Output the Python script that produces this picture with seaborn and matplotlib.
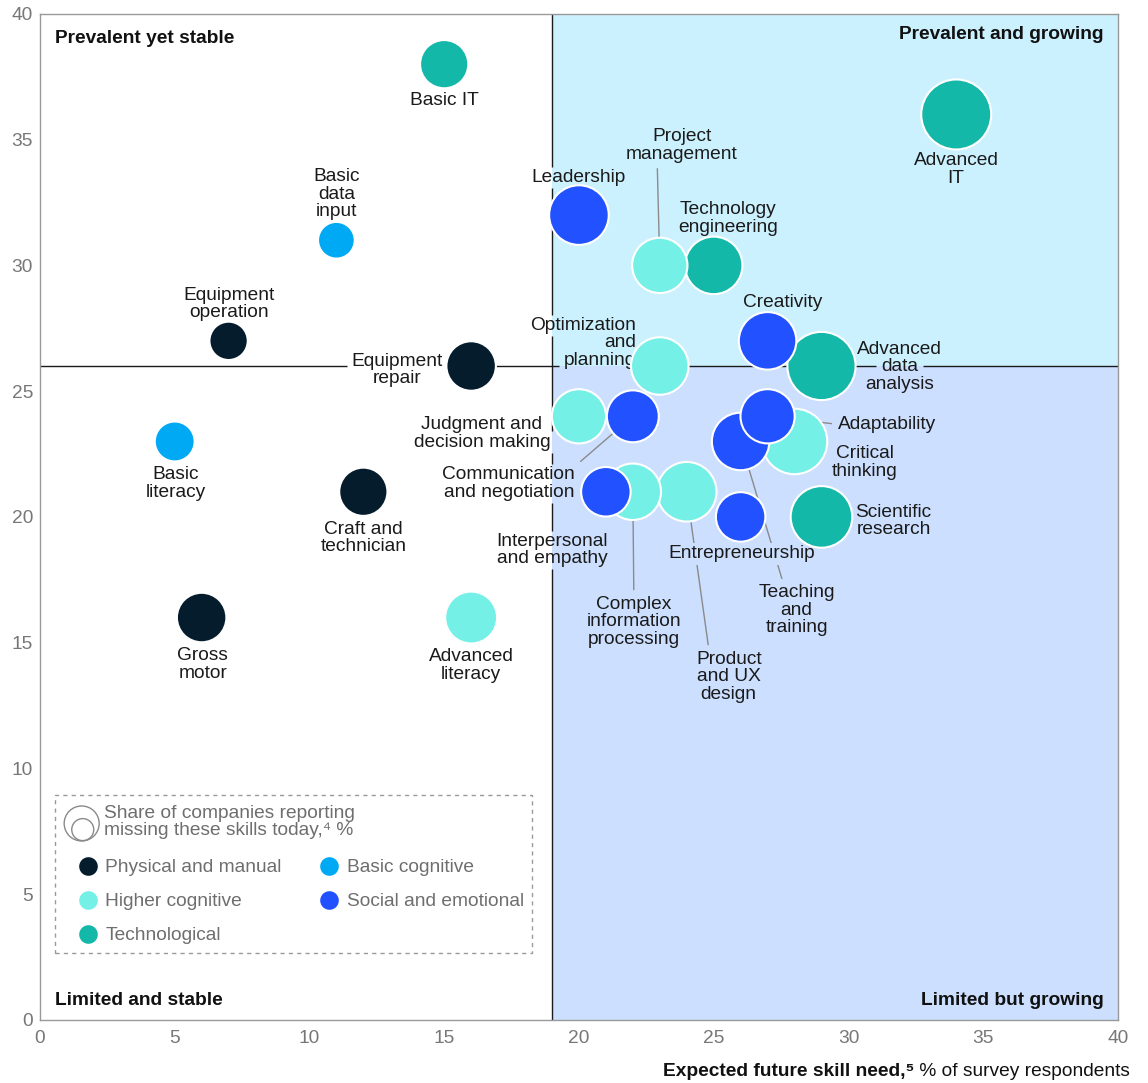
import pandas as pd
import seaborn as sns
import matplotlib.pyplot as plt
from matplotlib.lines import Line2D
from matplotlib.patches import Rectangle
from matplotlib.text import Text

sns.set_style('white')
plt.rcParams['font.family'] = ['Liberation Sans', 'DejaVu Sans']

# ---- data ----
skills = ['Basic IT', 'Advanced\nIT', 'Basic\ndata\ninput', 'Equipment\noperation',
          'Equipment\nrepair', 'Leadership', 'Project\nmanagement', 'Technology\nengineering',
          'Creativity', 'Advanced\ndata\nanalysis', 'Optimization\nand\nplanning',
          'Judgment and\ndecision making', 'Communication\nand negotiation', 'Adaptability',
          'Critical\nthinking', 'Teaching\nand\ntraining', 'Interpersonal\nand empathy',
          'Complex\ninformation\nprocessing', 'Product\nand UX\ndesign', 'Entrepreneurship',
          'Scientific\nresearch', 'Basic\nliteracy', 'Craft and\ntechnician', 'Gross\nmotor',
          'Advanced\nliteracy']
need = [15, 34, 11, 7, 16, 20, 23, 25, 27, 29, 23, 20, 22, 27, 28, 26, 21, 22, 24, 26, 29, 5, 12, 6, 16]
prevalence = [38, 36, 31, 27, 26, 32, 30, 30, 27, 26, 26, 24, 24, 24, 23, 23, 21, 21, 21, 20, 20, 23, 21, 16, 16]
gap = [19, 40, 11, 12, 20, 29, 25, 27, 27, 38, 27, 24, 22, 24, 35, 27, 20, 26, 29, 20, 31, 13, 19, 20, 22]
category = ['Technological', 'Technological', 'Basic cognitive', 'Physical and manual',
            'Physical and manual', 'Social and emotional', 'Higher cognitive', 'Technological',
            'Social and emotional', 'Technological', 'Higher cognitive', 'Higher cognitive',
            'Social and emotional', 'Social and emotional', 'Higher cognitive',
            'Social and emotional', 'Social and emotional', 'Higher cognitive', 'Higher cognitive',
            'Social and emotional', 'Technological', 'Basic cognitive', 'Physical and manual',
            'Physical and manual', 'Higher cognitive']

categories = ['Physical and manual', 'Higher cognitive', 'Technological',
              'Basic cognitive', 'Social and emotional']
colors = ['#051C2C', '#75F0E7', '#14B8A9', '#00A9F4', '#2251FF']
palette = dict(zip(categories, colors))

split_x, split_y = 19, 26

# label layout: offset in pixels from bubble centre, alignment, leader-line anchor
layout = [
    (0, -36, 'center', None), (0, -55, 'center', None), (0, 46, 'center', None),
    (0, 37, 'center', None), (-74, -4, 'center', None), (0, 38, 'center', None),
    (22, 120, 'center', (0.28, 0)), (14, 47, 'center', None), (15, 38, 'center', None),
    (78, -1, 'center', None), (-24, 23, 'right', None), (-97, -17, 'center', None),
    (-124, -67, 'center', (1, 1)), (70, -8, 'left', (0, 0.5)), (70, -21, 'center', None),
    (56, -169, 'center', (0.33, 1)), (-54, -58, 'center', None), (1, -130, 'center', (0.5, 1)),
    (42, -185, 'center', (0.2, 1)), (1, -37, 'center', None), (72, -4, 'center', None),
    (1, -42, 'center', None), (0, -46, 'center', None), (1, -47, 'center', None),
    (0, -48, 'center', None),
]

df = pd.DataFrame({'skill': skills, 'need': need, 'prevalence': prevalence,
                   'gap': gap, 'category': category})
df['layout'] = layout

bg_top = '#CCF1FE'
bg_bottom = '#CCDFFE'
smax = 2540
fs = 13.8

fig = plt.figure(figsize=(11.48, 10.83), dpi=100)
ax = fig.add_axes([0.0348, 0.0582, 0.939, 0.929])

ax.add_patch(Rectangle((split_x, split_y), 40 - split_x, 40 - split_y, fc=bg_top, ec='none', zorder=0))
ax.add_patch(Rectangle((split_x, 0), 40 - split_x, split_y, fc=bg_bottom, ec='none', zorder=0))

# larger bubbles first so smaller ones sit on top
sns.scatterplot(data=df.sort_values('gap', ascending=False), x='need', y='prevalence',
                hue='category', palette=palette, size='gap', sizes=(0, smax),
                size_norm=(0, 40), edgecolor='white', linewidth=1.5, legend=False,
                zorder=3, ax=ax)

labels = []
for _, r in df.iterrows():
    dx, dy, ha, relpos = r['layout']
    kw = {}
    if relpos is not None:
        rad = (r['gap'] / 40 * smax) ** 0.5 / 2 + 0.5
        kw['arrowprops'] = dict(arrowstyle='-', color='#8a8a8a', lw=1, shrinkA=2,
                                shrinkB=rad, relpos=relpos)
    z = 2.5
    if r['skill'] == 'Entrepreneurship':
        kw['bbox'] = dict(boxstyle='square,pad=0.15', fc=bg_bottom, ec='none')
        z = 2.6
    t = ax.annotate(r['skill'], xy=(r['need'], r['prevalence']), xytext=(dx, dy),
                    textcoords='offset pixels', ha=ha, va='center', fontsize=fs,
                    color='#1a1a1a', linespacing=1.04, zorder=z, **kw)
    labels.append(t)

# quadrant names
qkw = dict(transform=ax.transAxes, fontsize=fs, fontweight='bold', color='#111111',
           va='center', zorder=5)
ax.text(0.0139, 0.976, 'Prevalent yet stable', ha='left', **qkw)
ax.text(0.987, 0.979, 'Prevalent and growing', ha='right', **qkw)
ax.text(0.0139, 0.0189, 'Limited and stable', ha='left', **qkw)
ax.text(0.987, 0.0189, 'Limited but growing', ha='right', **qkw)

# legend box
ax.add_patch(Rectangle((0.0139, 0.0666), 0.4425, 0.1571, transform=ax.transAxes,
                       fill=False, ec='#9a9a9a', lw=1, ls=(0, (3, 3)), zorder=5))
ax.scatter([0.0387], [0.1953], s=635, transform=ax.transAxes, fc='none', ec='#8a8a8a',
           lw=1, zorder=5)
ax.scatter([0.0397], [0.1892], s=251, transform=ax.transAxes, fc='none', ec='#8a8a8a',
           lw=1, zorder=5)
ax.text(0.0594, 0.1968, 'Share of companies reporting\nmissing these skills today,\u2074 %',
        transform=ax.transAxes, fontsize=fs, color='#6e6e6e', va='center', ha='left',
        linespacing=1.05, zorder=5)

handles = [Line2D([], [], marker='o', ls='', markersize=14.4, markerfacecolor=palette[c],
                  markeredgecolor='white', label=c) for c in categories]
leg = ax.legend(handles=handles, ncol=2, loc='upper left', bbox_to_anchor=(0.0338, 0.160),
                frameon=False, fontsize=fs, handlelength=1.2, handletextpad=0.3,
                columnspacing=1.9, labelspacing=0.86, borderpad=0, borderaxespad=0)
for t in leg.get_texts():
    t.set_color('#6e6e6e')

ax.set_xlim(0, 40)
ax.set_ylim(0, 40)
ax.set_xticks(range(0, 41, 5))
ax.set_yticks(range(0, 41, 5))
ax.set_xlabel('')
ax.set_ylabel('')
ax.tick_params(length=0, labelsize=fs, labelcolor='#777777')
ax.tick_params(axis='x', pad=7)
ax.tick_params(axis='y', pad=5)
for s in ax.spines.values():
    s.set_color('#999999')
    s.set_linewidth(1)
    s.set_visible(True)

reg = fig.text(0.9843, 0.0102, ' % of survey respondents', ha='right', va='center',
               fontsize=fs, color='#111111')
ax.annotate('Expected future skill need,\u2075', xy=(0, 0.5), xycoords=reg, ha='right',
            va='center', fontsize=fs, fontweight='bold', color='#111111',
            annotation_clip=False)

# quadrant dividers, broken where a line of label text sits on them
fig.canvas.draw()
renderer = fig.canvas.get_renderer()
inv = ax.transData.inverted()
xpx, ypx = ax.transData.transform((split_x, split_y))
hgaps, vgaps = [], []
for t in labels:
    bb = Text.get_window_extent(t, renderer)
    rows = t.get_text().split('\n')
    h = bb.height / len(rows)
    for i, row in enumerate(rows):
        w, _, _ = renderer.get_text_width_height_descent(row, t.get_fontproperties(), ismath=False)
        ha = t.get_horizontalalignment()
        if ha == 'left':
            x0 = bb.x0
        elif ha == 'right':
            x0 = bb.x1 - w
        else:
            x0 = (bb.x0 + bb.x1) / 2 - w / 2
        x1 = x0 + w
        yt = bb.y1 - i * h
        yb = yt - h
        if yb - 2 <= ypx <= yt + 2 and x1 + 5 > 0:
            a = inv.transform((x0 - 5, 0))[0]
            b = inv.transform((x1 + 5, 0))[0]
            hgaps.append((a, b))
        if x0 - 5 <= xpx <= x1 + 5:
            a = inv.transform((0, yb - 2))[1]
            b = inv.transform((0, yt + 2))[1]
            vgaps.append((a, b))


def pieces(lo, hi, gaps):
    out, cur = [], lo
    for a, b in sorted(gaps):
        if a > cur:
            out.append((cur, a))
        cur = max(cur, b)
    if cur < hi:
        out.append((cur, hi))
    return out


for a, b in pieces(0, 40, hgaps):
    ax.plot([a, b], [split_y, split_y], color='#1a1a1a', lw=1, zorder=1.5,
            solid_capstyle='butt')
for a, b in pieces(0, 40, vgaps):
    ax.plot([split_x, split_x], [a, b], color='#1a1a1a', lw=1, zorder=1.5,
            solid_capstyle='butt')

fig.savefig('out.png', dpi=100)
